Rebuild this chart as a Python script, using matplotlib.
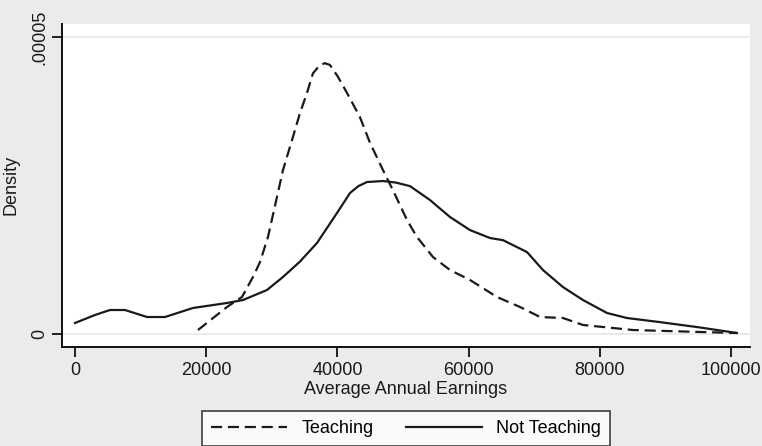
import matplotlib
matplotlib.use("Agg")
import matplotlib.pyplot as plt

plt.rcParams['font.family'] = ['Liberation Sans', 'DejaVu Sans']

# Kernel density estimates of average annual earnings
earn_not_teaching = [0, 3049, 5335, 7622, 10975, 13720, 17988, 23171, 25610, 29268,
                     31707, 34300, 36890, 39939, 41921, 43200, 44512, 46951, 48900,
                     51067, 54116, 57165, 60213, 63262, 65244, 68902, 71341, 74390,
                     77439, 81098, 84146, 89177, 95274, 100900]
dens_not_teaching = [1.85e-6, 3.2e-6, 4.04e-6, 4.04e-6, 2.86e-6, 2.86e-6, 4.38e-6,
                     5.22e-6, 5.72e-6, 7.41e-6, 9.6e-6, 1.22e-5, 1.532e-5, 2.037e-5,
                     2.374e-5, 2.49e-5, 2.559e-5, 2.576e-5, 2.55e-5, 2.49e-5, 2.256e-5,
                     1.97e-5, 1.75e-5, 1.616e-5, 1.58e-5, 1.38e-5, 1.077e-5, 7.9e-6,
                     5.72e-6, 3.54e-6, 2.69e-6, 2.0e-6, 1.1e-6, 1.7e-7]

earn_teaching = [18750, 23171, 25457, 27134, 28201, 29421, 31707, 33232, 34299, 35366,
                 36280, 37347, 38100, 38872, 40091, 41463, 43445, 44970, 46951, 48476,
                 50610, 52134, 54573, 57165, 60213, 64329, 67835, 70884, 74390, 77439,
                 85061, 95274, 100900]
dens_teaching = [6.7e-7, 4.55e-6, 6.23e-6, 9.6e-6, 1.21e-5, 1.633e-5, 2.76e-5, 3.32e-5,
                 3.72e-5, 4.06e-5, 4.39e-5, 4.53e-5, 4.56e-5, 4.53e-5, 4.33e-5, 4.06e-5,
                 3.65e-5, 3.22e-5, 2.76e-5, 2.42e-5, 1.92e-5, 1.633e-5, 1.296e-5,
                 1.077e-5, 9.1e-6, 6.23e-6, 4.55e-6, 2.86e-6, 2.69e-6, 1.52e-6, 6.7e-7,
                 3.4e-7, 1.7e-7]

x_ticks = [0, 20000, 40000, 60000, 80000, 100000]
x_tick_labels = ["0", "20000", "40000", "60000", "80000", "100000"]
y_ticks = [0, 0.00005]
y_tick_labels = ["0", ".00005"]

bg = "#EBEBEB"
fig = plt.figure(figsize=(7.62, 4.46), dpi=100, facecolor=bg)
ax = fig.add_axes([62 / 762, 1 - 347 / 446, (750 - 62) / 762, (347 - 24) / 446])
ax.set_facecolor("white")

ax.plot(earn_teaching, dens_teaching, color="#1a1a1a", lw=1.6,
        dashes=(5, 2.6), label="Teaching", solid_joinstyle="round")
ax.plot(earn_not_teaching, dens_not_teaching, color="#1a1a1a", lw=1.6,
        label="Not Teaching", solid_joinstyle="round")

ax.set_xlim(-1980, 102900)
ax.set_ylim(-2.19e-6, 5.22e-5)

ax.set_xticks(x_ticks)
ax.set_xticklabels(x_tick_labels)
ax.set_yticks(y_ticks)
ax.set_yticklabels(y_tick_labels, rotation=90, va="center")
ax.yaxis.grid(True, color="#E6E6E6", lw=1.2)
ax.set_axisbelow(True)

for side in ("top", "right"):
    ax.spines[side].set_visible(False)
for side in ("left", "bottom"):
    ax.spines[side].set_linewidth(1.4)
    ax.spines[side].set_color("#111111")

ax.tick_params(axis="both", labelsize=13, length=7, width=1.3, color="#111111",
               labelcolor="#1a1a1a")
ax.tick_params(axis="y", pad=3)
ax.tick_params(axis="x", pad=4)

ax.set_xlabel("Average Annual Earnings", fontsize=13, color="#1a1a1a", labelpad=1)
fig.text(11 / 762, 1 - 185 / 446, "Density", fontsize=13, color="#1a1a1a",
         rotation=90, ha="center", va="center")

leg = fig.legend(loc="upper center", bbox_to_anchor=(406 / 762, 1 - 411 / 446),
                 ncol=2, fontsize=13, frameon=True, fancybox=False,
                 handlelength=4.2, handletextpad=0.8, columnspacing=1.8,
                 borderpad=0.5, borderaxespad=0)
leg.get_frame().set_edgecolor("#111111")
leg.get_frame().set_linewidth(1.2)
leg.get_frame().set_facecolor("white")

fig.savefig("out.png", dpi=100, facecolor=bg)
